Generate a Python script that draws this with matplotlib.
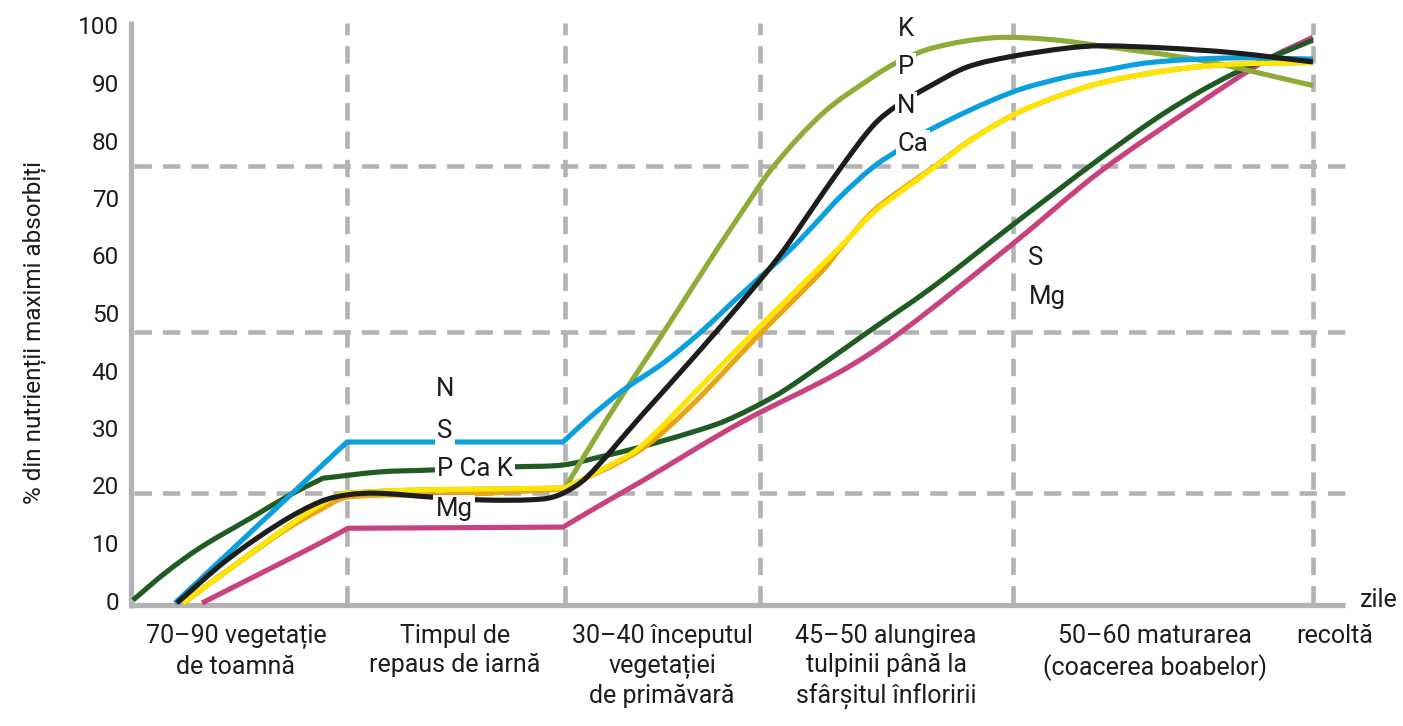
import matplotlib
matplotlib.use("Agg")
import matplotlib.pyplot as plt
from matplotlib.path import Path
from matplotlib.patches import PathPatch

plt.rcParams['font.family'] = ['Roboto', 'DejaVu Sans']

# ---------------- data ----------------
# x: timeline position (0 = start of autumn vegetation, 1182 = harvest)
# y: % of maximum nutrients absorbed
green_x = [2, 34, 69, 122, 159, 192, 249, 296, 386, 432, 469, 509, 559, 596, 642, 669, 736, 802, 882, 969, 1036, 1102, 1182]
green_y = [0.5, 5.2, 9.6, 15.0, 18.8, 21.7, 22.8, 23.1, 23.7, 24.0, 25.4, 27.1, 29.6, 31.8, 35.8, 38.8, 47.0, 55.0, 65.8, 77.3, 85.5, 92.0, 97.9]
green_corners = [5]

magenta_x = [71, 129, 189, 217, 432, 469, 509, 609, 709, 769, 882, 969, 1069, 1136, 1182]
magenta_y = [0, 5.1, 10.4, 13.0, 13.2, 17.0, 21.0, 31.3, 40.2, 47.0, 62.5, 75.0, 87.0, 94.5, 98.4]
magenta_corners = [3, 4]

blue_x = [44, 216, 432, 459, 492, 532, 569, 609, 659, 686, 709, 742, 766, 799, 879, 936, 969, 1019, 1102, 1182]
blue_y = [0, 28.0, 28.0, 32.3, 37.0, 41.7, 47.0, 53.5, 61.4, 66.3, 70.6, 75.8, 78.6, 82.3, 88.7, 91.5, 92.5, 94.0, 94.8, 94.6]
blue_corners = [1, 2]

black_x = [46, 96, 149, 189, 216, 246, 302, 356, 412, 432, 456, 509, 559, 609, 649, 679, 709, 742, 766, 801, 836, 879, 936, 969, 1036, 1102, 1182]
black_y = [0, 7.5, 13.9, 17.6, 18.8, 19.1, 18.4, 17.9, 18.1, 19.1, 21.9, 32.3, 42.0, 52.0, 60.5, 68.0, 75.5, 83.0, 86.5, 90.1, 93.2, 95.0, 96.5, 96.9, 96.5, 95.7, 94.1]
black_corners = []

yellow_x = [52, 104, 156, 189, 216, 434, 476, 509, 576, 642, 709, 742, 776, 809, 836, 879, 919, 969, 1036, 1102, 1182]
yellow_y = [0, 6.6, 13.2, 17.0, 19.1, 20.0, 23.7, 27.1, 38.8, 50.4, 61.9, 67.8, 72.3, 76.5, 80.0, 84.6, 87.6, 90.4, 92.6, 93.7, 94.0]
yellow_corners = [5]

orange_x = [52, 104, 156, 189, 216, 319, 432, 509, 559, 626, 692, 709, 742, 776, 809, 836, 879, 919, 969, 1036, 1102, 1182]
orange_y = [0, 6.6, 12.9, 16.2, 18.4, 18.8, 19.8, 26.6, 34.1, 46.3, 57.9, 61.6, 68.1, 72.6, 76.6, 80.1, 84.6, 87.6, 90.4, 92.6, 93.7, 94.0]
orange_corners = [6]

olive_x = [52, 104, 156, 189, 216, 434, 476, 536, 586, 609, 642, 692, 742, 766, 801, 862, 919, 969, 1069, 1182]
olive_y = [0, 6.6, 13.2, 17.0, 19.1, 20.0, 32.0, 48.0, 61.5, 67.5, 75.8, 85.2, 91.5, 94.0, 96.5, 98.3, 98.0, 96.9, 94.4, 90.0]
olive_corners = [5]

y_ticks = [0, 10, 20, 30, 40, 50, 60, 70, 80, 90, 100]
h_grid = [19.1, 47.1, 76.0]
v_grid = [216, 434, 629, 882, 1182]

stage_labels = ["70–90 vegetație\nde toamnă",
                "Timpul de\nrepaus de iarnă",
                "30–40 începutul\nvegetației\nde primăvară",
                "45–50 alungirea\ntulpinii până la\nsfârșitul înfloririi",
                "50–60 maturarea\n(coacerea boabelor)"]
stage_centers = [105, 324, 531, 755, 1024]


def smooth_path(xs, ys, corners):
    """Cubic Bezier path through the read points (Hermite tangents, sharp at corners)."""
    n = len(xs)
    seg = [(ys[k + 1] - ys[k]) / (xs[k + 1] - xs[k]) for k in range(n - 1)]
    mL, mR = [0.0] * n, [0.0] * n
    for i in range(n):
        if i == 0:
            mL[i] = mR[i] = seg[0]
        elif i == n - 1:
            mL[i] = mR[i] = seg[-1]
        elif i in corners:
            mL[i], mR[i] = seg[i - 1], seg[i]
        else:
            m = (ys[i + 1] - ys[i - 1]) / (xs[i + 1] - xs[i - 1])
            mL[i] = mR[i] = m
    verts = [(xs[0], ys[0])]
    codes = [Path.MOVETO]
    for k in range(n - 1):
        dx = xs[k + 1] - xs[k]
        verts += [(xs[k] + dx / 3, ys[k] + mR[k] * dx / 3),
                  (xs[k + 1] - dx / 3, ys[k + 1] - mL[k + 1] * dx / 3),
                  (xs[k + 1], ys[k + 1])]
        codes += [Path.CURVE4] * 3
    return Path(verts, codes)


# ---------------- figure ----------------
W, H = 1403, 726
fig = plt.figure(figsize=(W / 100, H / 100), dpi=100)
ax = fig.add_axes([0, 0, 1, 1])
ax.set_xlim(-131, W - 131)
ax.set_ylim((603 - H) / 5.75, 603 / 5.75)
ax.axis('off')

GRAY = '#b3b3b3'
dash = dict(color=GRAY, lw=3.3, dashes=(3.8, 2.4), solid_capstyle='butt', dash_capstyle='butt', zorder=1)
for gy in h_grid:
    ax.plot([3, 1217], [gy, gy], **dash)
for gx in v_grid:
    ax.plot([gx, gx], [0, 100.8], **dash)

# axis lines
ax.plot([-2, 1214], [-0.35, -0.35], color=GRAY, lw=3.8, solid_capstyle='butt', zorder=2)
ax.plot([0, 0], [-0.8, 101.2], color=GRAY, lw=3.8, solid_capstyle='butt', zorder=2)

LW = 3.7
curves = [
    (magenta_x, magenta_y, magenta_corners, '#c9417f', 3),
    (green_x, green_y, green_corners, '#1f5b22', 4),
    (orange_x, orange_y, orange_corners, '#e9a514', 5),
    (yellow_x, yellow_y, yellow_corners, '#ffe500', 6),
    (olive_x, olive_y, olive_corners, '#8fab38', 5.5),
    (blue_x, blue_y, blue_corners, '#0aa0de', 7),
    (black_x, black_y, black_corners, '#1d1d1b', 8),
]
for xs, ys, cn, c, z in curves:
    patch = PathPatch(smooth_path(xs, ys, cn), facecolor='none', edgecolor=c, lw=LW,
                      joinstyle='round', capstyle='butt', zorder=z)
    ax.add_patch(patch)

# tick labels
for t in y_ticks:
    ax.text(-12, t, str(t), ha='right', va='center', fontsize=17.5, color='#1d1d1b')

ax.text(-97, 47, "% din nutrienții maximi absorbiți", rotation=90, ha='center', va='center',
        fontsize=17.5, color='#1d1d1b')

for lab, cx in zip(stage_labels, stage_centers):
    ax.text(cx, -3.6, lab, ha='center', va='top', fontsize=18, linespacing=1.3, color='#1d1d1b')
ax.text(1204, -3.6, "recoltă", ha='center', va='top', fontsize=18, color='#1d1d1b')
ax.text(1229, 0.5, "zile", ha='left', va='center', fontsize=18, color='#1d1d1b')

# series labels
box = dict(facecolor='white', edgecolor='none', pad=1.5)
lab_kw = dict(ha='center', va='center', fontsize=18.5, color='#1d1d1b', zorder=20)
for txt, x, y in [("N", 314, 37.2), ("S", 314, 29.9), ("P Ca K", 344, 23.3), ("Mg", 323, 16.3),
                  ("K", 775, 99.8), ("P", 775, 93.2), ("N", 775, 86.4), ("Ca", 782, 79.8)]:
    ax.text(x, y, txt, bbox=box, **lab_kw)
for txt, x, y in [("S", 905, 60.0), ("Mg", 916, 53.2)]:
    ax.text(x, y, txt, **lab_kw)

fig.savefig("out.png", dpi=100)
